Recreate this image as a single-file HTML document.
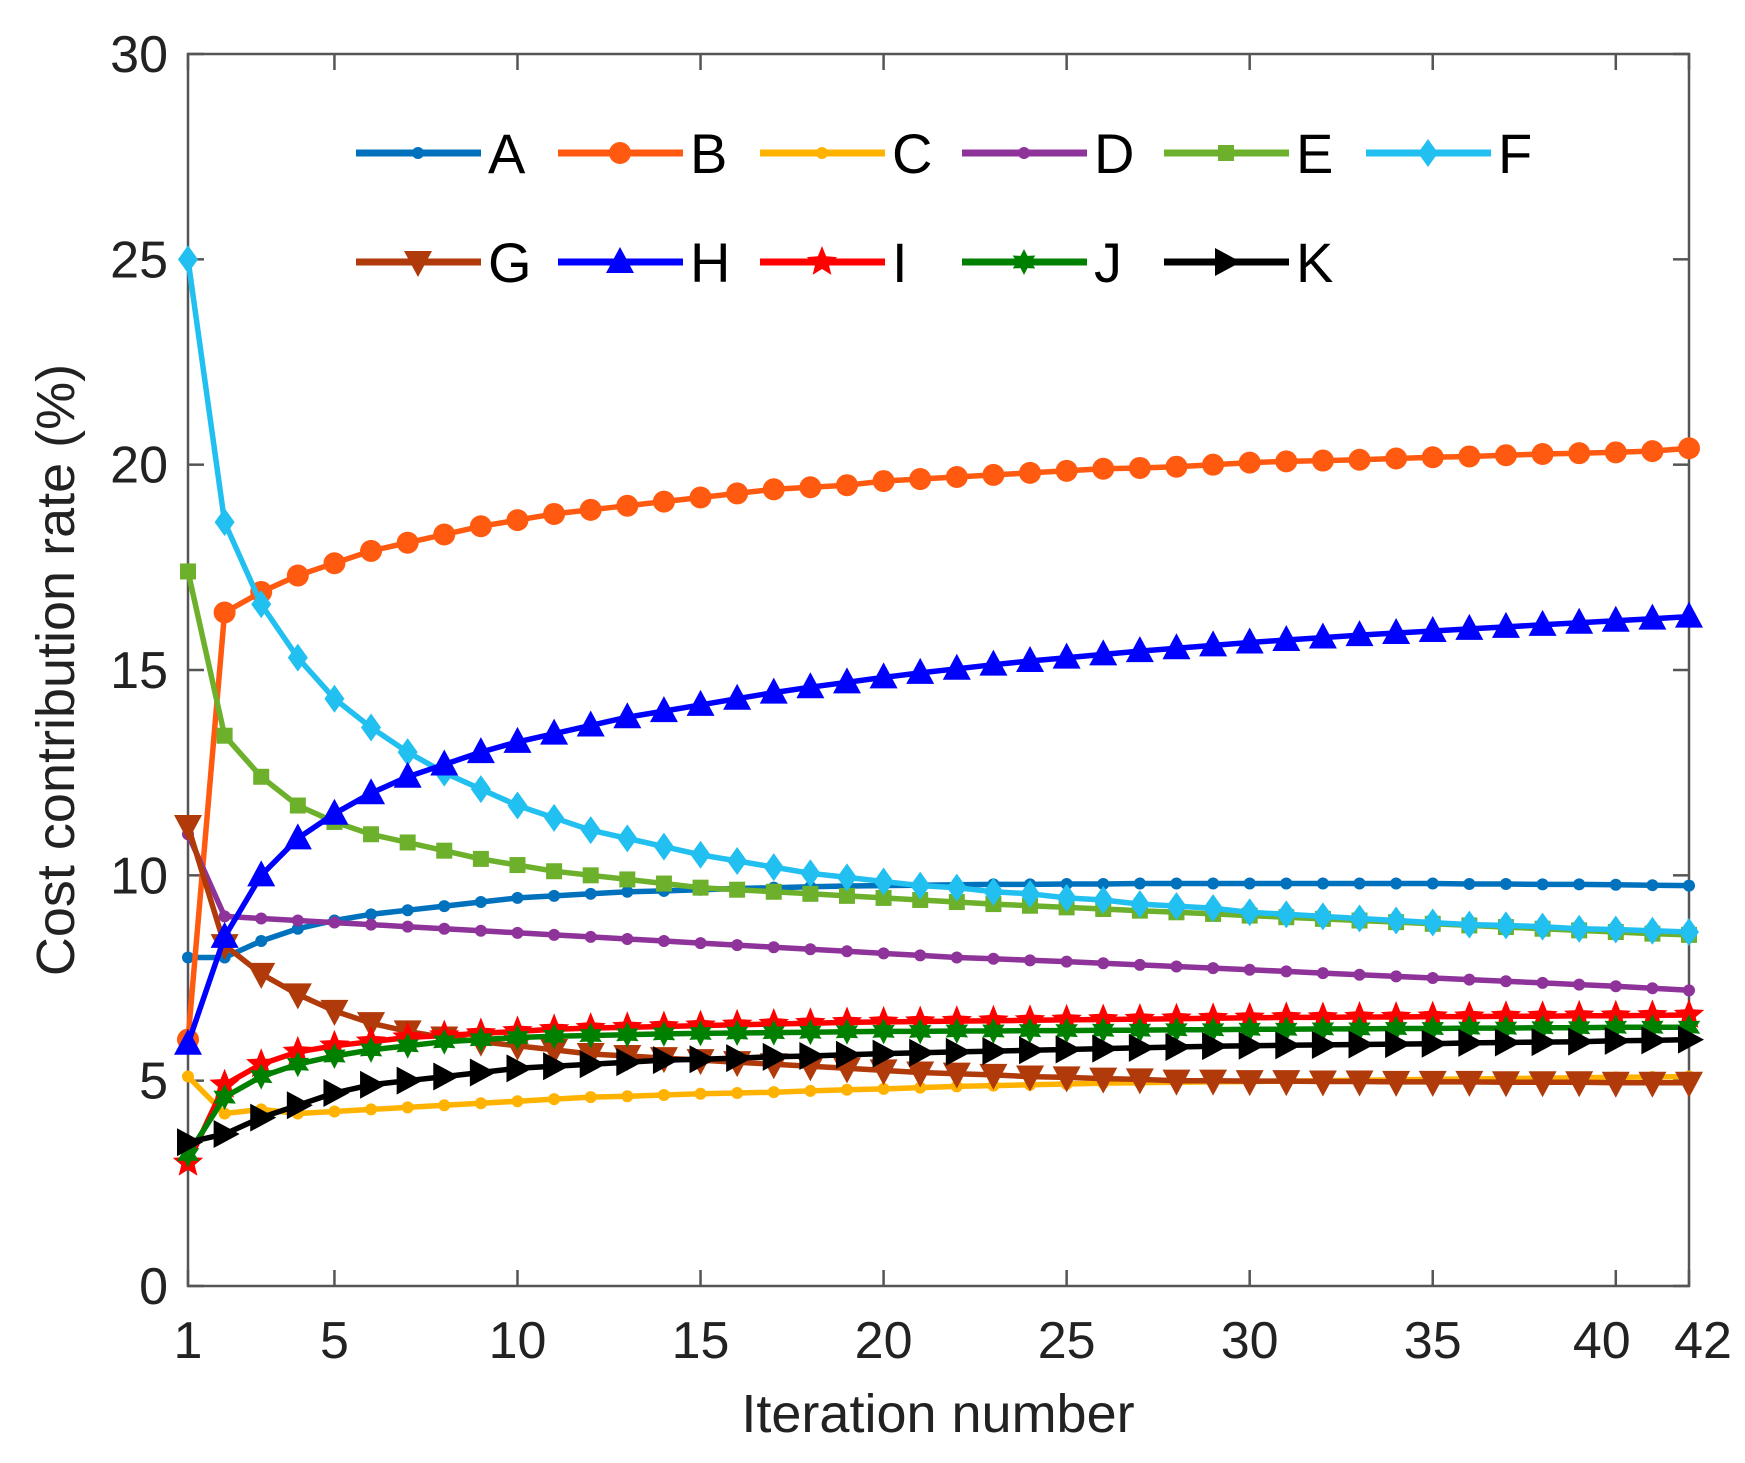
<!DOCTYPE html>
<html><head><meta charset="utf-8"><style>
html,body{margin:0;padding:0;background:#fff;}
svg{display:block;font-family:"Liberation Sans",Arial,sans-serif;}
</style></head><body>
<svg id="chart" width="1745" height="1463" viewBox="0 0 1745 1463" xmlns="http://www.w3.org/2000/svg">
<rect x="0" y="0" width="1745" height="1463" fill="#fff"/>
<g id="axes"></g>
<g id="series"></g>
<g id="legend"></g>
<text x="938" y="1432" font-size="54" text-anchor="middle" fill="#222">Iteration number</text>
<text transform="translate(74,670) rotate(-90)" font-size="54" text-anchor="middle" fill="#222">Cost contribution rate (%)</text>
</svg>
<script>
const xTicks = [1,5,10,15,20,25,30,35,40,42];
const yTicks = [0,5,10,15,20,25,30];
const seriesNames = ['A','B','C','D','E','F','G','H','I','J','K'];
const sA = [8.0,8.0,8.4,8.7,8.9,9.05,9.15,9.25,9.35,9.45,9.5,9.55,9.6,9.62,9.65,9.68,9.7,9.72,9.74,9.75,9.76,9.77,9.78,9.78,9.79,9.79,9.8,9.8,9.8,9.8,9.8,9.8,9.8,9.8,9.8,9.79,9.79,9.78,9.78,9.77,9.76,9.75];
const sB = [6.0,16.4,16.9,17.3,17.6,17.9,18.1,18.3,18.5,18.65,18.8,18.9,19.0,19.1,19.2,19.3,19.4,19.45,19.5,19.6,19.65,19.7,19.75,19.8,19.85,19.9,19.92,19.95,20.0,20.05,20.08,20.1,20.12,20.15,20.18,20.2,20.23,20.26,20.28,20.3,20.33,20.4];
const sC = [5.1,4.2,4.3,4.2,4.25,4.3,4.35,4.4,4.45,4.5,4.55,4.6,4.62,4.65,4.68,4.7,4.72,4.75,4.78,4.8,4.83,4.86,4.88,4.9,4.92,4.94,4.95,4.96,4.97,4.98,4.99,5.0,5.01,5.02,5.03,5.04,5.05,5.06,5.07,5.08,5.09,5.1];
const sD = [11.0,9.0,8.95,8.9,8.85,8.8,8.75,8.7,8.65,8.6,8.55,8.5,8.45,8.4,8.35,8.3,8.25,8.2,8.15,8.1,8.05,8.0,7.97,7.93,7.9,7.86,7.82,7.78,7.74,7.7,7.66,7.62,7.58,7.54,7.5,7.46,7.42,7.38,7.34,7.3,7.25,7.2];
const sE = [17.4,13.4,12.4,11.7,11.3,11.0,10.8,10.6,10.4,10.25,10.1,10.0,9.9,9.8,9.7,9.65,9.6,9.55,9.5,9.45,9.4,9.35,9.3,9.26,9.22,9.18,9.14,9.1,9.06,9.02,8.98,8.94,8.9,8.86,8.82,8.78,8.74,8.7,8.66,8.62,8.58,8.55];
const sF = [25.0,18.6,16.6,15.3,14.3,13.6,13.0,12.5,12.1,11.7,11.4,11.1,10.9,10.7,10.5,10.35,10.2,10.05,9.95,9.85,9.75,9.7,9.6,9.55,9.45,9.4,9.3,9.25,9.2,9.1,9.05,9.0,8.95,8.9,8.85,8.8,8.78,8.75,8.7,8.68,8.65,8.62];
const sG = [11.2,8.3,7.6,7.1,6.7,6.4,6.2,6.05,5.95,5.85,5.75,5.65,5.6,5.55,5.5,5.45,5.4,5.35,5.3,5.25,5.2,5.17,5.14,5.1,5.08,5.05,5.03,5.0,5.0,4.99,4.99,4.98,4.98,4.97,4.97,4.97,4.96,4.96,4.96,4.95,4.95,4.95];
const sH = [5.9,8.5,10.0,10.9,11.5,12.0,12.4,12.7,13.0,13.25,13.45,13.65,13.85,14.0,14.15,14.3,14.45,14.58,14.7,14.82,14.93,15.03,15.13,15.22,15.3,15.38,15.46,15.53,15.6,15.67,15.73,15.79,15.85,15.9,15.95,16.0,16.05,16.1,16.15,16.2,16.25,16.3];
const sI = [3.0,4.9,5.4,5.7,5.85,5.95,6.05,6.1,6.15,6.2,6.25,6.28,6.3,6.32,6.34,6.36,6.38,6.4,6.42,6.43,6.44,6.45,6.46,6.47,6.48,6.49,6.5,6.51,6.52,6.53,6.54,6.54,6.55,6.55,6.56,6.56,6.57,6.57,6.58,6.58,6.59,6.6];
const sJ = [3.2,4.6,5.1,5.4,5.6,5.75,5.85,5.95,6.0,6.05,6.08,6.1,6.12,6.14,6.15,6.16,6.17,6.18,6.19,6.2,6.2,6.21,6.21,6.22,6.22,6.23,6.23,6.24,6.24,6.25,6.25,6.26,6.26,6.27,6.27,6.28,6.28,6.29,6.29,6.3,6.3,6.3];
const sK = [3.5,3.7,4.1,4.4,4.7,4.9,5.0,5.1,5.2,5.3,5.35,5.4,5.45,5.5,5.52,5.55,5.58,5.6,5.63,5.66,5.68,5.7,5.72,5.74,5.76,5.78,5.8,5.82,5.84,5.85,5.86,5.87,5.88,5.89,5.9,5.92,5.93,5.94,5.95,5.97,5.98,6.0];

const NS='http://www.w3.org/2000/svg';
const L=188,R=1689,T=54,B=1286;
const xMin=1,xMax=42,yMin=0,yMax=30;
function xs(v){return L+(v-xMin)/(xMax-xMin)*(R-L);}
function ys(v){return B-(v-yMin)/(yMax-yMin)*(B-T);}
function mk(tag,attrs,parent){const e=document.createElementNS(NS,tag);for(const k in attrs)e.setAttribute(k,attrs[k]);parent.appendChild(e);return e;}

const axes=document.getElementById('axes');
let box=mk('rect',{x:L,y:T,width:R-L,height:B-T,fill:'none',stroke:'#555','stroke-width':2.5},axes);


xTicks.forEach(t=>{
  const x=xs(t);
  let l=mk('line',{x1:x,y1:B,x2:x,y2:B-16,stroke:'#555','stroke-width':2.5},axes);
  
  
  let l2=mk('line',{x1:x,y1:T,x2:x,y2:T+16,stroke:'#555','stroke-width':2.5},axes);
  
  
  let tx=mk('text',{x:(t===40?x-14:(t===42?x+14:x)),y:B+72,'font-size':52,'text-anchor':'middle',fill:'#222'},axes);
  tx.textContent=t;
  
  
});
yTicks.forEach(t=>{
  const y=ys(t);
  let l=mk('line',{x1:L,y1:y,x2:L+16,y2:y,stroke:'#555','stroke-width':2.5},axes);
  
  
  let l2=mk('line',{x1:R,y1:y,x2:R-16,y2:y,stroke:'#555','stroke-width':2.5},axes);
  
  
  let tx=mk('text',{x:L-20,y:y+18,'font-size':52,'text-anchor':'end',fill:'#222'},axes);
  tx.textContent=t;
  
  
});

const colors=['#0072BD','#FF5A10','#FFB300','#8E3399','#6DB02C','#22C0F0','#B03A0A','#0000FF','#FF0000','#008000','#000000'];
const markers=['dot','circle','dot','dot','square','diamond','tdown','tup','star','jstar','tright'];
const data=[sA,sB,sC,sD,sE,sF,sG,sH,sI,sJ,sK];

function marker(type,x,y,c,parent){
  let e;
  switch(type){
    case 'dot': e=mk('circle',{cx:x,cy:y,r:6,fill:c},parent);break;
    case 'circle': e=mk('circle',{cx:x,cy:y,r:11,fill:c},parent);break;
    case 'square': e=mk('rect',{x:x-8,y:y-8,width:16,height:16,fill:c},parent);break;
    case 'diamond': e=mk('polygon',{points:`${x},${y-14} ${x+10},${y} ${x},${y+14} ${x-10},${y}`,fill:c},parent);break;
    case 'tdown': e=mk('polygon',{points:`${x-14},${y-11} ${x+14},${y-11} ${x},${y+15}`,fill:c},parent);break;
    case 'tup': e=mk('polygon',{points:`${x-14},${y+11} ${x+14},${y+11} ${x},${y-15}`,fill:c},parent);break;
    case 'tright': e=mk('polygon',{points:`${x-11},${y-14} ${x-11},${y+14} ${x+15},${y}`,fill:c},parent);break;
    case 'star': case 'jstar': {
      const pts=[];const n=type==='star'?5:6;const ro=type==='star'?16:13,ri=7;
      for(let i=0;i<2*n;i++){const a=-Math.PI/2+i*Math.PI/n;const r=i%2?ri:ro;pts.push((x+r*Math.cos(a)).toFixed(1)+','+(y+r*Math.sin(a)).toFixed(1));}
      e=mk('polygon',{points:pts.join(' '),fill:c},parent);break;}
  }
  return e;
}

const sg=document.getElementById('series');
data.forEach((arr,si)=>{
  const g=mk('g',{},sg);
  
  
  const d=arr.map((v,i)=>(i?'L':'M')+xs(i+1).toFixed(1)+','+ys(v).toFixed(1)).join(' ');
  const p=mk('path',{d:d,fill:'none',stroke:colors[si],'stroke-width':5.5,'stroke-linejoin':'round'},g);
  
  
  arr.forEach((v,i)=>{
    const m=marker(markers[si],xs(i+1),ys(v),colors[si],g);
    
    
  });
});

const lg=document.getElementById('legend');
const legX=[356,558,760,962,1164,1366];
const legY=[153,262];
seriesNames.forEach((nm,i)=>{
  const row=i<6?0:1, col=i<6?i:i-6;
  const x0=legX[col], y=legY[row];
  const g=mk('g',{},lg);
  
  
  mk('line',{x1:x0,y1:y,x2:x0+125,y2:y,stroke:colors[i],'stroke-width':7},g);
  marker(markers[i],x0+62,y,colors[i],g);
  const t=mk('text',{x:x0+132,y:y+20,'font-size':56,fill:'#000'},g);
  t.textContent=nm;
});
</script>
</body></html>
